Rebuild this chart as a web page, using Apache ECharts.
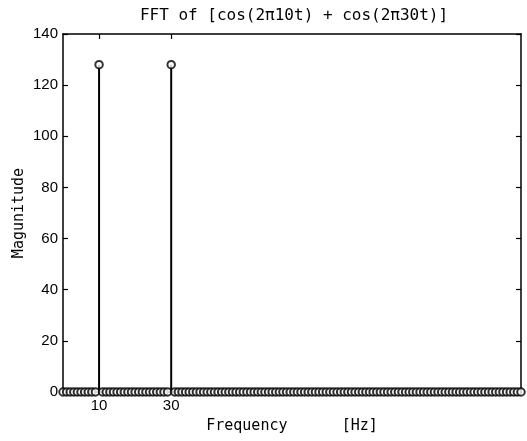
<!DOCTYPE html>
<html>
<head>
<meta charset="utf-8">
<script src="https://cdn.jsdelivr.net/npm/echarts@6/dist/echarts.min.js"></script>
<style>
  html, body { margin: 0; padding: 0; background: #fff; }
  #chart { width: 527px; height: 441px; }
</style>
</head>
<body>
<div id="chart"></div>
<script>
// FFT bin frequencies (Hz), 0..127
const freqHz = [
  0, 1, 2, 3, 4, 5, 6, 7, 8, 9, 10, 11, 12, 13, 14, 15,
  16, 17, 18, 19, 20, 21, 22, 23, 24, 25, 26, 27, 28, 29, 30, 31,
  32, 33, 34, 35, 36, 37, 38, 39, 40, 41, 42, 43, 44, 45, 46, 47,
  48, 49, 50, 51, 52, 53, 54, 55, 56, 57, 58, 59, 60, 61, 62, 63,
  64, 65, 66, 67, 68, 69, 70, 71, 72, 73, 74, 75, 76, 77, 78, 79,
  80, 81, 82, 83, 84, 85, 86, 87, 88, 89, 90, 91, 92, 93, 94, 95,
  96, 97, 98, 99, 100, 101, 102, 103, 104, 105, 106, 107, 108, 109, 110, 111,
  112, 113, 114, 115, 116, 117, 118, 119, 120, 121, 122, 123, 124, 125, 126, 127
];

// |FFT| magnitude per bin: peaks at 10 Hz and 30 Hz
const magnitude = [
  0, 0, 0, 0, 0, 0, 0, 0, 0, 0, 128, 0, 0, 0, 0, 0,
  0, 0, 0, 0, 0, 0, 0, 0, 0, 0, 0, 0, 0, 0, 128, 0,
  0, 0, 0, 0, 0, 0, 0, 0, 0, 0, 0, 0, 0, 0, 0, 0,
  0, 0, 0, 0, 0, 0, 0, 0, 0, 0, 0, 0, 0, 0, 0, 0,
  0, 0, 0, 0, 0, 0, 0, 0, 0, 0, 0, 0, 0, 0, 0, 0,
  0, 0, 0, 0, 0, 0, 0, 0, 0, 0, 0, 0, 0, 0, 0, 0,
  0, 0, 0, 0, 0, 0, 0, 0, 0, 0, 0, 0, 0, 0, 0, 0,
  0, 0, 0, 0, 0, 0, 0, 0, 0, 0, 0, 0, 0, 0, 0, 0
];

const xTicks = [10, 30];
const yTicks = [0, 20, 40, 60, 80, 100, 120, 140];

const points = freqHz.map((f, i) => [f, magnitude[i]]);

const mono = '"DejaVu Sans Mono", "Liberation Mono", monospace';
const sans = '"Liberation Sans", Arial, sans-serif';
const ink = '#000';

const chart = echarts.init(document.getElementById('chart'), null, { renderer: 'canvas' });

const baseX = {
  type: 'value', min: 0, max: 127,
  axisLine: { show: true, onZero: false, lineStyle: { color: ink, width: 1.5 } },
  splitLine: { show: false }
};
const baseY = {
  type: 'value', min: yTicks[0], max: yTicks[yTicks.length - 1], interval: 20,
  axisLine: { show: true, onZero: false, lineStyle: { color: ink, width: 1.5 } },
  splitLine: { show: false }
};

chart.setOption({
  animation: false,
  backgroundColor: '#fff',
  title: {
    text: 'FFT of [cos(2\u03c010t) + cos(2\u03c030t)]',
    left: 289, top: 3, textAlign: 'center',
    textStyle: { fontFamily: mono, fontSize: 16, fontWeight: 'normal', color: ink }
  },
  grid: { left: 63, right: 6, top: 34, bottom: 49 },
  xAxis: [
    Object.assign({}, baseX, {
      position: 'bottom',
      name: 'Frequency      [Hz]',
      nameLocation: 'middle', nameGap: 27, nameMoveOverlap: false,
      nameTextStyle: { fontFamily: mono, fontSize: 15, color: ink },
      axisTick: { show: true, inside: true, length: 5, customValues: xTicks, lineStyle: { color: ink, width: 1.2 } },
      axisLabel: { show: true, customValues: xTicks, margin: 6, fontFamily: sans, fontSize: 15, color: ink }
    }),
    Object.assign({}, baseX, {
      position: 'top',
      axisTick: { show: true, inside: true, length: 5, customValues: xTicks, lineStyle: { color: ink, width: 1.2 } },
      axisLabel: { show: false }
    })
  ],
  yAxis: [
    Object.assign({}, baseY, {
      position: 'left',
      name: 'Magunitude',
      nameLocation: 'middle', nameGap: 36, nameRotate: 90, nameMoveOverlap: false,
      nameTextStyle: { fontFamily: mono, fontSize: 15, color: ink },
      axisTick: { show: true, inside: true, length: 5, lineStyle: { color: ink, width: 1.2 } },
      axisLabel: { show: true, margin: 5, fontFamily: sans, fontSize: 15, color: ink }
    }),
    Object.assign({}, baseY, {
      position: 'right',
      axisTick: { show: true, inside: true, length: 5, lineStyle: { color: ink, width: 1.2 } },
      axisLabel: { show: false }
    })
  ],
  series: [
    {
      // stems
      type: 'bar',
      data: points,
      barWidth: 2,
      itemStyle: { color: ink },
      silent: true,
      z: 2
    },
    {
      // stem heads
      type: 'scatter',
      data: points,
      symbol: 'emptyCircle',
      symbolSize: 7.5,
      itemStyle: { color: ink, borderColor: ink, borderWidth: 3 },
      silent: true,
      clip: false,
      z: 3
    }
  ]
});
</script>
</body>
</html>
